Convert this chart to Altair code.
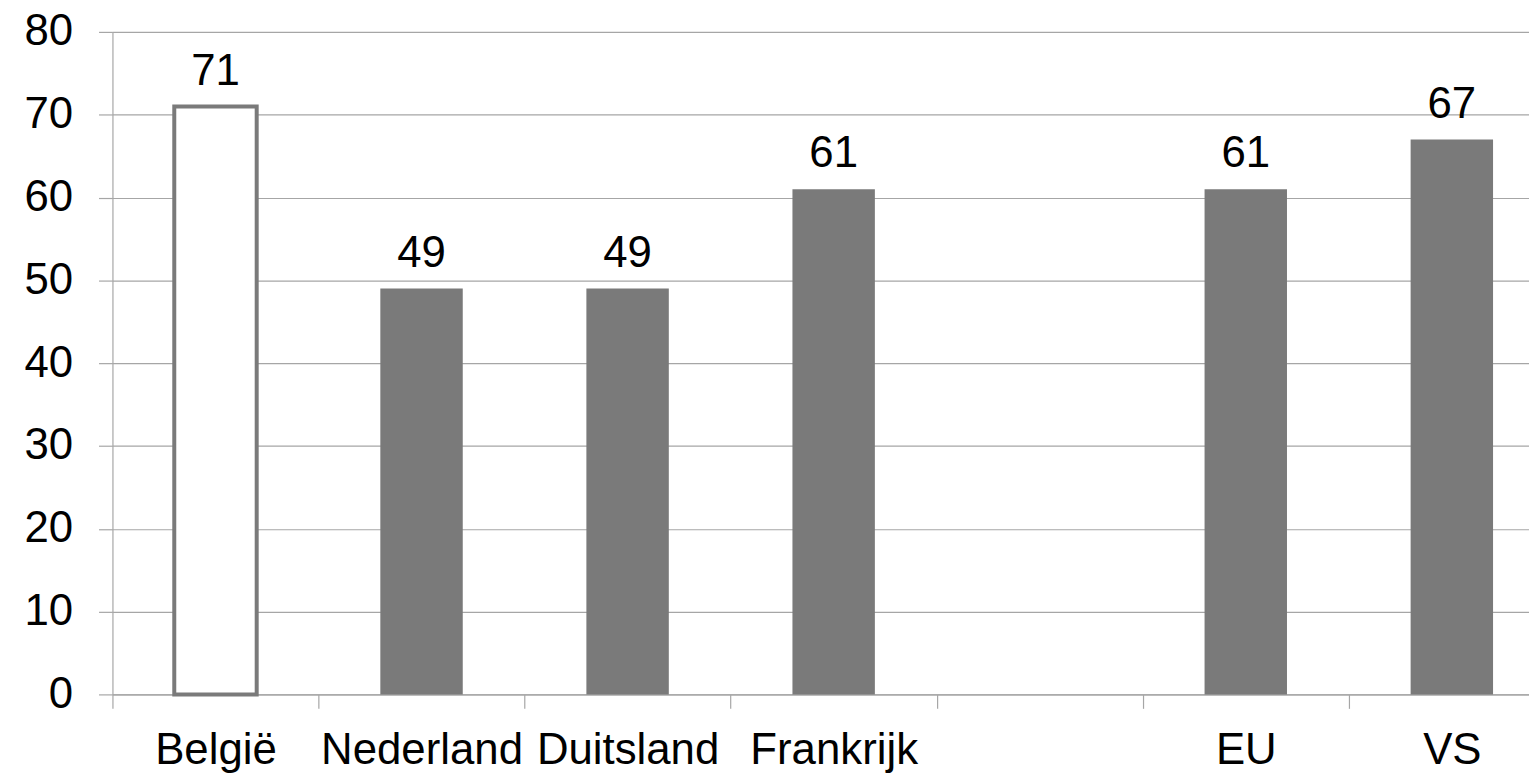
import altair as alt
import pandas as pd

categories = ["België", "Nederland", "Duitsland", "Frankrijk", "EU", "VS"]
values = [71, 49, 49, 61, 61, 67]
axis_order = ["België", "Nederland", "Duitsland", "Frankrijk", " ", "EU", "VS"]

df = pd.DataFrame({"land": categories, "waarde": values})

FONT = "Liberation Sans"
GRAY = "#7a7a7a"
GRID = "#a6a6a6"

x = alt.X(
    "land:N",
    sort=axis_order,
    scale=alt.Scale(domain=axis_order, range=[0, 1450], paddingInner=0, paddingOuter=0),
    axis=alt.Axis(
        title=None, labelAngle=0, labelFont=FONT, labelFontSize=44, labelColor="black",
        tickBand="extent", tickSize=14, tickColor=GRID, tickWidth=1.2,
        domainColor=GRID, domainWidth=1.2, labelPadding=20, labelBaseline="top",
        labelOverlap=False, labelLimit=0,
    ),
)
y = alt.Y(
    "waarde:Q",
    scale=alt.Scale(domain=[0, 80], nice=False),
    axis=alt.Axis(
        title=None, values=list(range(0, 81, 10)), labelFont=FONT, labelFontSize=44,
        labelColor="black", tickSize=14, tickColor=GRID, tickWidth=1.2,
        gridColor=GRID, gridWidth=1.2, domainColor=GRID, domainWidth=1.2,
        labelPadding=26,
    ),
)

is_be = alt.datum.land == "België"
bars = alt.Chart(df).mark_bar(width=alt.RelativeBandSize(0.4)).encode(
    x=x,
    y=y,
    fill=alt.condition(is_be, alt.value("white"), alt.value(GRAY)),
    stroke=alt.value(GRAY),
    strokeWidth=alt.condition(is_be, alt.value(4), alt.value(0)),
)
labels = alt.Chart(df).mark_text(
    font=FONT, fontSize=44, color="black", baseline="alphabetic", dy=-22
).encode(x=x, y=y, text="waarde:Q")

chart = (
    (bars + labels)
    .properties(
        width=1424,
        height=666,
        autosize=alt.AutoSizeParams(type="none"),
        padding={"left": 105, "top": 22, "right": 0, "bottom": 79},
        background="white",
    )
    .configure_view(stroke=None)
)

chart.save("out.html", embed_options={"renderer": "svg", "actions": False})
